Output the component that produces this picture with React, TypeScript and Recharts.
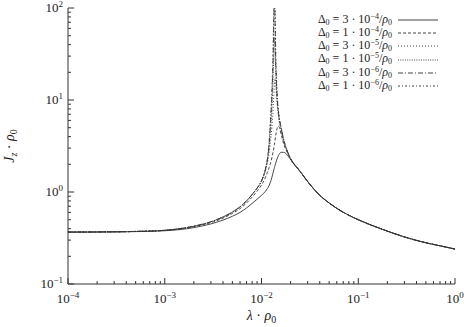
import React from "react";
import { LineChart, Line, XAxis, YAxis, Legend, Label } from "recharts";

// lambda * rho0 sample points (log axis)
const LAMBDA = [
  1e-4, 2e-4, 5e-4, 1e-3, 2e-3, 3e-3, 4e-3, 5e-3, 6e-3, 7e-3, 8e-3, 9e-3,
  0.01, 0.011, 0.0115, 0.012, 0.0123, 0.0128, 0.0132, 0.0134, 0.0135, 0.0136,
  0.0137, 0.0138, 0.014, 0.0145, 0.015, 0.016, 0.017, 0.018, 0.02,
  0.025, 0.03, 0.04, 0.05, 0.065, 0.1, 0.17, 0.3, 0.44, 0.7, 1,
];

// shared tail right of the resonance
const TAIL = [1.68, 1.3, 0.92, 0.76, 0.63, 0.5, 0.4, 0.325, 0.29, 0.26, 0.24];
// shared rise for the narrow curves
const RISE = [0.367, 0.368, 0.373, 0.384, 0.425, 0.475, 0.535, 0.605, 0.69, 0.8, 0.94, 1.1, 1.32];

const J_3E4 = [
  0.366, 0.367, 0.371, 0.379, 0.41, 0.45, 0.495, 0.545, 0.6, 0.67, 0.75, 0.835,
  0.92, 1.02, 1.09, 1.18, 1.26, 1.44, 1.64, 1.74, 1.79, 1.84, 1.89, 1.94, 2.05, 2.3, 2.5, 2.7, 2.7, 2.6, 2.25,
  ...TAIL,
];
const J_1E4 = [
  0.367, 0.368, 0.372, 0.382, 0.42, 0.465, 0.52, 0.585, 0.66, 0.76, 0.88, 1.02,
  1.19, 1.45, 1.63, 1.85, 2.0, 2.35, 2.75, 3.0, 3.15, 3.3, 3.45, 3.65, 4.05, 4.9, 5.2, 4.2, 3.3, 2.85, 2.3,
  ...TAIL,
];
const J_3E5 = [
  ...RISE,
  1.72, 2.05, 2.65, 3.3, 5, 8, 11, 13, 15, 16.5, 17, 15, 9, 6.5, 4.5, 3.5, 2.95, 2.3,
  ...TAIL,
];
const J_1E5 = [
  ...RISE,
  1.76, 2.2, 3.1, 4.2, 8, 18, 30, 40, 48, 45, 36, 22, 10, 7, 4.8, 3.6, 3.0, 2.3,
  ...TAIL,
];
const J_3E6 = [
  ...RISE,
  1.78, 2.25, 3.4, 5, 11, 30, 70, 110, 150, 120, 70, 30, 11, 7.3, 4.9, 3.65, 3.0, 2.3,
  ...TAIL,
];
const J_1E6 = [
  ...RISE,
  1.8, 2.3, 3.6, 5.5, 13, 40, 110, 220, 400, 250, 110, 38, 12, 7.5, 5.0, 3.7, 3.0, 2.3,
  ...TAIL,
];

const KEYS = ["d3e4", "d1e4", "d3e5", "d1e5", "d3e6", "d1e6"];
const COEFS = [3, 1, 3, 1, 3, 1];
const EXPS = [-4, -4, -5, -5, -6, -6];
const DASHES = [undefined, "3 2", "1 2", "1 1.3", "5 2 1 2", "2 2 1 2"];

const X_DECADES = [-4, -3, -2, -1, 0];
const Y_DECADES = [-1, 0, 1, 2];

const data = LAMBDA.map((lam, i) => ({
  lam,
  d3e4: J_3E4[i],
  d1e4: J_1E4[i],
  d3e5: J_3E5[i],
  d1e5: J_1E5[i],
  d3e6: J_3E6[i],
  d1e6: J_1E6[i],
}));

function logTicks(decades: number[]) {
  const out: number[] = [];
  decades.forEach((d, i) => {
    out.push(Math.pow(10, d));
    if (i < decades.length - 1) {
      for (let m = 2; m <= 9; m++) out.push(m * Math.pow(10, d));
    }
  });
  return out;
}
const X_TICKS = logTicks(X_DECADES);
const Y_TICKS = logTicks(Y_DECADES);

const FONT = "'Liberation Serif', 'Times New Roman', serif";
const FRAME = "#333";
const INK = "#222";
const MAJOR = 6;
const MINOR = 3;

const isDecade = (v: number) => Math.abs(Math.log10(v) - Math.round(Math.log10(v))) < 1e-6;
const minus = (n: number) => (n < 0 ? "\u2212" + Math.abs(n) : String(n));

function Pow10({ x, y, exp, anchor }: { x: number; y: number; exp: number; anchor: string }) {
  return (
    <text x={x} y={y} textAnchor={anchor} fontFamily={FONT} fontSize={13} fill={INK}>
      10
      <tspan dy={-5} fontSize={9}>{minus(exp)}</tspan>
    </text>
  );
}

const makeXTick = (side: "bottom" | "top") => (props: any) => {
  const { x, y, payload } = props;
  const v = payload.value;
  const major = isDecade(v);
  const len = major ? MAJOR : MINOR;
  const dir = side === "bottom" ? -1 : 1;
  return (
    <g>
      <line x1={x} x2={x} y1={y} y2={y + dir * len} stroke={FRAME} strokeWidth={1} />
      {side === "bottom" && major && (
        <Pow10 x={x} y={y + 19} exp={Math.round(Math.log10(v))} anchor="middle" />
      )}
    </g>
  );
};

const makeYTick = (side: "left" | "right") => (props: any) => {
  const { x, y, payload } = props;
  const v = payload.value;
  const major = isDecade(v);
  const len = major ? MAJOR : MINOR;
  const dir = side === "left" ? 1 : -1;
  return (
    <g>
      <line x1={x} x2={x + dir * len} y1={y} y2={y} stroke={FRAME} strokeWidth={1} />
      {side === "left" && major && (
        <Pow10 x={x - 5} y={y + 4} exp={Math.round(Math.log10(v))} anchor="end" />
      )}
    </g>
  );
};

const XTitle = (props: any) => {
  const vb = props.viewBox;
  return (
    <text x={vb.x + vb.width / 2} y={vb.y + 36} textAnchor="middle" fontFamily={FONT} fontSize={14} fill={INK}>
      <tspan fontStyle="italic">λ</tspan>
      <tspan> · </tspan>
      <tspan fontStyle="italic">ρ</tspan>
      <tspan fontSize={10} dy={3}>0</tspan>
    </text>
  );
};

const YTitle = (props: any) => {
  const vb = props.viewBox;
  const cx = vb.x + 14;
  const cy = vb.y + vb.height / 2;
  return (
    <text
      x={cx}
      y={cy}
      transform={`rotate(-90 ${cx} ${cy})`}
      textAnchor="middle"
      fontFamily={FONT}
      fontSize={14}
      fill={INK}
    >
      <tspan fontStyle="italic">J</tspan>
      <tspan fontStyle="italic" fontSize={10} dy={3}>z</tspan>
      <tspan dy={-3}> · </tspan>
      <tspan fontStyle="italic">ρ</tspan>
      <tspan fontSize={10} dy={3}>0</tspan>
    </text>
  );
};

const subStyle: React.CSSProperties = { fontSize: 8, position: "relative", top: 2 };
const supStyle: React.CSSProperties = { fontSize: 8, position: "relative", top: -4 };

const LegendBox = () => (
  <div style={{ fontFamily: FONT, fontSize: 12, color: INK }}>
    {KEYS.map((k, i) => (
      <div key={k} style={{ display: "flex", alignItems: "center", height: 13.3, lineHeight: "13.3px" }}>
        <span style={{ width: 102, textAlign: "right", whiteSpace: "nowrap" }}>
          Δ<span style={subStyle}>0</span> = {COEFS[i]} · 10
          <span style={supStyle}>{minus(EXPS[i])}</span>/<i>ρ</i>
          <span style={subStyle}>0</span>
        </span>
        <svg width={40} height={4} style={{ marginLeft: 6 }}>
          <line x1={0} x2={40} y1={2} y2={2} stroke="#444" strokeWidth={1} strokeDasharray={DASHES[i]} />
        </svg>
      </div>
    ))}
  </div>
);

export default function App() {
  return (
    <div style={{ position: "absolute", left: 0, top: 0, background: "#fff" }}>
      <LineChart width={464} height={327} data={data} margin={{ top: 8, right: 9, left: 0, bottom: 0 }}>
        <XAxis
          xAxisId="b"
          dataKey="lam"
          type="number"
          scale="log"
          domain={[1e-4, 1]}
          allowDataOverflow
          ticks={X_TICKS}
          interval={0}
          tickSize={0}
          tickMargin={0}
          tickLine={false}
          tick={makeXTick("bottom")}
          axisLine={{ stroke: FRAME }}
          height={43}
        >
          <Label content={XTitle} />
        </XAxis>
        <XAxis
          xAxisId="t"
          orientation="top"
          dataKey="lam"
          type="number"
          scale="log"
          domain={[1e-4, 1]}
          allowDataOverflow
          ticks={X_TICKS}
          interval={0}
          tickSize={0}
          tickMargin={0}
          tickLine={false}
          tick={makeXTick("top")}
          axisLine={{ stroke: FRAME }}
          height={0}
        />
        <YAxis
          yAxisId="l"
          type="number"
          scale="log"
          domain={[0.1, 100]}
          allowDataOverflow
          ticks={Y_TICKS}
          interval={0}
          tickSize={0}
          tickMargin={0}
          tickLine={false}
          tick={makeYTick("left")}
          axisLine={{ stroke: FRAME }}
          width={68}
        >
          <Label content={YTitle} />
        </YAxis>
        <YAxis
          yAxisId="r"
          orientation="right"
          type="number"
          scale="log"
          domain={[0.1, 100]}
          allowDataOverflow
          ticks={Y_TICKS}
          interval={0}
          tickSize={0}
          tickMargin={0}
          tickLine={false}
          tick={makeYTick("right")}
          axisLine={{ stroke: FRAME }}
          width={0}
        />
        <Legend
          layout="vertical"
          align="center"
          verticalAlign="middle"
          wrapperStyle={{ left: 290, top: 13, width: 160, height: 82 }}
          content={LegendBox}
        />
        {KEYS.map((k, i) => (
          <Line
            key={k}
            xAxisId="b"
            yAxisId="l"
            dataKey={k}
            type="monotone"
            stroke="#333"
            strokeWidth={0.9}
            strokeDasharray={DASHES[i]}
            dot={false}
            activeDot={false}
            isAnimationActive={false}
          />
        ))}
      </LineChart>
    </div>
  );
}
